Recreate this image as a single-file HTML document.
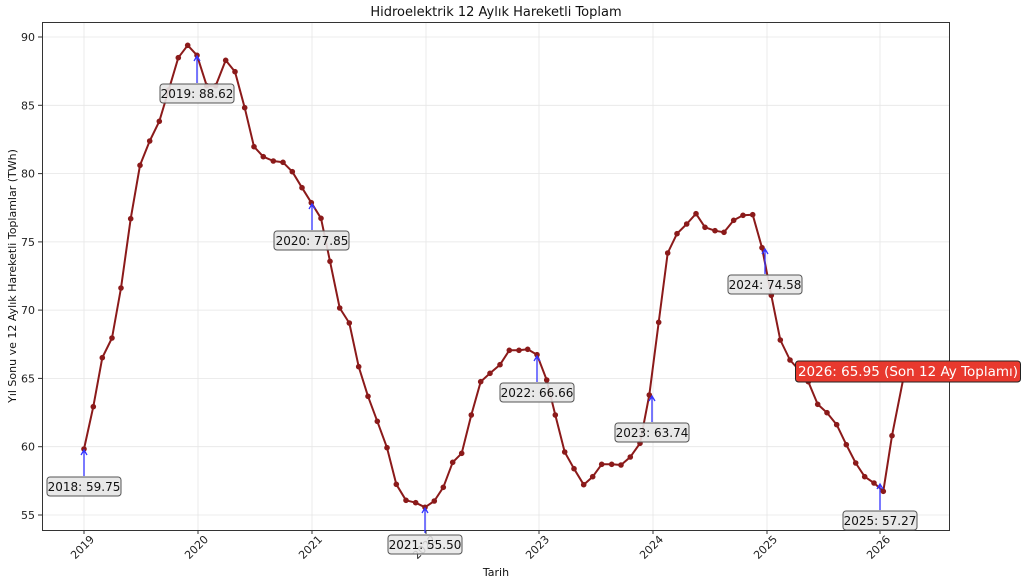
<!DOCTYPE html>
<html><head><meta charset="utf-8"><style>
body{margin:0;background:#fff;}
svg{display:block;font-family:"DejaVu Sans","Liberation Sans",sans-serif;}
</style></head><body>
<svg width="1024" height="586" viewBox="0 0 1024 586" xmlns="http://www.w3.org/2000/svg">
<rect width="1024" height="586" fill="#fff"/>
<g stroke="#e6e6e6" stroke-width="0.8">
<line x1="84" y1="22" x2="84" y2="530"/><line x1="198" y1="22" x2="198" y2="530"/><line x1="312" y1="22" x2="312" y2="530"/><line x1="426" y1="22" x2="426" y2="530"/><line x1="539" y1="22" x2="539" y2="530"/><line x1="653" y1="22" x2="653" y2="530"/><line x1="767" y1="22" x2="767" y2="530"/><line x1="880" y1="22" x2="880" y2="530"/>
<line x1="42" y1="37" x2="949" y2="37"/><line x1="42" y1="105.3" x2="949" y2="105.3"/><line x1="42" y1="173.6" x2="949" y2="173.6"/><line x1="42" y1="241.9" x2="949" y2="241.9"/><line x1="42" y1="310.1" x2="949" y2="310.1"/><line x1="42" y1="378.4" x2="949" y2="378.4"/><line x1="42" y1="446.7" x2="949" y2="446.7"/><line x1="42" y1="515" x2="949" y2="515"/>
</g>
<rect x="42.5" y="22.5" width="907" height="508" fill="none" stroke="#333" stroke-width="1"/>
<g stroke="#333" stroke-width="1">
<line x1="38" y1="37" x2="42" y2="37"/><line x1="38" y1="105.3" x2="42" y2="105.3"/><line x1="38" y1="173.6" x2="42" y2="173.6"/><line x1="38" y1="241.9" x2="42" y2="241.9"/><line x1="38" y1="310.1" x2="42" y2="310.1"/><line x1="38" y1="378.4" x2="42" y2="378.4"/><line x1="38" y1="446.7" x2="42" y2="446.7"/><line x1="38" y1="515" x2="42" y2="515"/>
<line x1="84" y1="530" x2="84" y2="534"/><line x1="198" y1="530" x2="198" y2="534"/><line x1="312" y1="530" x2="312" y2="534"/><line x1="426" y1="530" x2="426" y2="534"/><line x1="539" y1="530" x2="539" y2="534"/><line x1="653" y1="530" x2="653" y2="534"/><line x1="767" y1="530" x2="767" y2="534"/><line x1="880" y1="530" x2="880" y2="534"/>
</g>
<g font-size="11" fill="#222" text-anchor="end">
<text x="35" y="41">90</text><text x="35" y="109.3">85</text><text x="35" y="177.6">80</text><text x="35" y="245.9">75</text><text x="35" y="314.1">70</text><text x="35" y="382.4">65</text><text x="35" y="450.7">60</text><text x="35" y="519">55</text>
<text transform="translate(95,540) rotate(-45)">2019</text>
<text transform="translate(209,540) rotate(-45)">2020</text>
<text transform="translate(323,540) rotate(-45)">2021</text>
<text transform="translate(437,540) rotate(-45)">2022</text>
<text transform="translate(550,540) rotate(-45)">2023</text>
<text transform="translate(664,540) rotate(-45)">2024</text>
<text transform="translate(778,540) rotate(-45)">2025</text>
<text transform="translate(891,540) rotate(-45)">2026</text>
</g>
<text x="496" y="16" font-size="13" text-anchor="middle" fill="#111">Hidroelektrik 12 Aylık Hareketli Toplam</text>
<text x="496" y="576" font-size="11" text-anchor="middle" fill="#111">Tarih</text>
<text transform="translate(16,276) rotate(-90)" font-size="11" text-anchor="middle" fill="#111">Yıl Sonu ve 12 Aylık Hareketli Toplamlar (TWh)</text>
<g fill="none" stroke="#8b1a1a" stroke-width="2" stroke-linejoin="round">
<polyline id="ln" points="84,449 93.3,406.7 102.3,357.7 112,338 121,288 130.7,218.7 140,165.3 149.7,141 159.3,121.3 168.7,90 178.3,57.7 187.7,45.3 197,55.3 206.7,85.7 215.7,85.7 225.7,60.3 235,71.7 244.7,107.7 254,146.7 263.3,156.7 273.3,161 283,162.3 292.3,171.7 302,187.7 311.3,202.7 321,218.3 330,261.3 339.7,308 349.3,323 358.7,366.7 368,396.3 377.3,421.3 387,447.7 396.3,484.3 406,500.3 415.7,502.7 425,507.3 434.3,501 443.3,487.3 452.7,462.3 461.7,453.3 471.3,415 480.7,381.7 490,373.3 500,364.7 509.3,350.3 519,350.3 527.7,349.3 537,354.7 546.7,380 555.3,415 564.7,452 574,468.7 583.7,484.7 592.7,476.7 601.7,464.3 611.7,464.3 621,465 630.3,457 640,443.3 649.3,395 658.7,322.3 667.7,253 677,233.7 686.7,224 696,213.7 705,227.3 715,230.7 724,232.3 733.7,220.3 743,215.3 752.7,214.7 762,247.7 771.3,295.3 780.3,340 790,360 799,370 808.3,381.7 817.7,404.3 827,412.7 836.7,424.7 846.3,444.7 855.7,463 864.7,476.7 874,483 883.3,491.3 892,435.7 906,365"/>
</g>
<g fill="#8b1a1a">
<circle cx="84" cy="449" r="2.8"/><circle cx="93.3" cy="406.7" r="2.8"/><circle cx="102.3" cy="357.7" r="2.8"/><circle cx="112" cy="338" r="2.8"/><circle cx="121" cy="288" r="2.8"/><circle cx="130.7" cy="218.7" r="2.8"/><circle cx="140" cy="165.3" r="2.8"/><circle cx="149.7" cy="141" r="2.8"/><circle cx="159.3" cy="121.3" r="2.8"/><circle cx="168.7" cy="90" r="2.8"/><circle cx="178.3" cy="57.7" r="2.8"/><circle cx="187.7" cy="45.3" r="2.8"/><circle cx="197" cy="55.3" r="2.8"/><circle cx="206.7" cy="85.7" r="2.8"/><circle cx="215.7" cy="85.7" r="2.8"/><circle cx="225.7" cy="60.3" r="2.8"/><circle cx="235" cy="71.7" r="2.8"/><circle cx="244.7" cy="107.7" r="2.8"/><circle cx="254" cy="146.7" r="2.8"/><circle cx="263.3" cy="156.7" r="2.8"/><circle cx="273.3" cy="161" r="2.8"/><circle cx="283" cy="162.3" r="2.8"/><circle cx="292.3" cy="171.7" r="2.8"/><circle cx="302" cy="187.7" r="2.8"/><circle cx="311.3" cy="202.7" r="2.8"/><circle cx="321" cy="218.3" r="2.8"/><circle cx="330" cy="261.3" r="2.8"/><circle cx="339.7" cy="308" r="2.8"/><circle cx="349.3" cy="323" r="2.8"/><circle cx="358.7" cy="366.7" r="2.8"/><circle cx="368" cy="396.3" r="2.8"/><circle cx="377.3" cy="421.3" r="2.8"/><circle cx="387" cy="447.7" r="2.8"/><circle cx="396.3" cy="484.3" r="2.8"/><circle cx="406" cy="500.3" r="2.8"/><circle cx="415.7" cy="502.7" r="2.8"/><circle cx="425" cy="507.3" r="2.8"/><circle cx="434.3" cy="501" r="2.8"/><circle cx="443.3" cy="487.3" r="2.8"/><circle cx="452.7" cy="462.3" r="2.8"/><circle cx="461.7" cy="453.3" r="2.8"/><circle cx="471.3" cy="415" r="2.8"/><circle cx="480.7" cy="381.7" r="2.8"/><circle cx="490" cy="373.3" r="2.8"/><circle cx="500" cy="364.7" r="2.8"/><circle cx="509.3" cy="350.3" r="2.8"/><circle cx="519" cy="350.3" r="2.8"/><circle cx="527.7" cy="349.3" r="2.8"/><circle cx="537" cy="354.7" r="2.8"/><circle cx="546.7" cy="380" r="2.8"/><circle cx="555.3" cy="415" r="2.8"/><circle cx="564.7" cy="452" r="2.8"/><circle cx="574" cy="468.7" r="2.8"/><circle cx="583.7" cy="484.7" r="2.8"/><circle cx="592.7" cy="476.7" r="2.8"/><circle cx="601.7" cy="464.3" r="2.8"/><circle cx="611.7" cy="464.3" r="2.8"/><circle cx="621" cy="465" r="2.8"/><circle cx="630.3" cy="457" r="2.8"/><circle cx="640" cy="443.3" r="2.8"/><circle cx="649.3" cy="395" r="2.8"/><circle cx="658.7" cy="322.3" r="2.8"/><circle cx="667.7" cy="253" r="2.8"/><circle cx="677" cy="233.7" r="2.8"/><circle cx="686.7" cy="224" r="2.8"/><circle cx="696" cy="213.7" r="2.8"/><circle cx="705" cy="227.3" r="2.8"/><circle cx="715" cy="230.7" r="2.8"/><circle cx="724" cy="232.3" r="2.8"/><circle cx="733.7" cy="220.3" r="2.8"/><circle cx="743" cy="215.3" r="2.8"/><circle cx="752.7" cy="214.7" r="2.8"/><circle cx="762" cy="247.7" r="2.8"/><circle cx="771.3" cy="295.3" r="2.8"/><circle cx="780.3" cy="340" r="2.8"/><circle cx="790" cy="360" r="2.8"/><circle cx="799" cy="370" r="2.8"/><circle cx="808.3" cy="381.7" r="2.8"/><circle cx="817.7" cy="404.3" r="2.8"/><circle cx="827" cy="412.7" r="2.8"/><circle cx="836.7" cy="424.7" r="2.8"/><circle cx="846.3" cy="444.7" r="2.8"/><circle cx="855.7" cy="463" r="2.8"/><circle cx="864.7" cy="476.7" r="2.8"/><circle cx="874" cy="483" r="2.8"/><circle cx="883.3" cy="491.3" r="2.8"/><circle cx="892" cy="435.7" r="2.8"/><circle cx="906" cy="365" r="2.8"/>
</g>
<g stroke="#3333ff" stroke-width="1.3" fill="none">
<path d="M84,476 V451 M81,455 L84,450 L87,455"/>
<path d="M197,83 V57 M194,61 L197,56 L200,61"/>
<path d="M312,230 V205 M309,209 L312,204 L315,209"/>
<path d="M425,533 V509 M422,513 L425,508 L428,513"/>
<path d="M537,382 V357 M534,361 L537,356 L540,361"/>
<path d="M652,422 V397 M649,401 L652,396 L655,401"/>
<path d="M765,274 V250 M762,254 L765,249 L768,254"/>
<path d="M880,510 V485 M877,489 L880,484 L883,489"/>
</g>
<g font-size="12" fill="#111" text-anchor="middle">
<rect x="47" y="477" width="74" height="19" rx="3" fill="#e6e6e6" fill-opacity="0.9" stroke="#555"/><text x="84" y="491">2018: 59.75</text>
<rect x="160" y="84" width="74" height="19" rx="3" fill="#e6e6e6" fill-opacity="0.9" stroke="#555"/><text x="197" y="98">2019: 88.62</text>
<rect x="274" y="231" width="75" height="19" rx="3" fill="#e6e6e6" fill-opacity="0.9" stroke="#555"/><text x="312" y="245">2020: 77.85</text>
<rect x="388" y="535" width="74" height="19" rx="3" fill="#e6e6e6" fill-opacity="0.85" stroke="#555"/><text x="425" y="549">2021: 55.50</text>
<rect x="500" y="383" width="74" height="19" rx="3" fill="#e6e6e6" fill-opacity="0.9" stroke="#555"/><text x="537" y="397">2022: 66.66</text>
<rect x="615" y="423" width="74" height="19" rx="3" fill="#e6e6e6" fill-opacity="0.9" stroke="#555"/><text x="652" y="437">2023: 63.74</text>
<rect x="728" y="275" width="74" height="19" rx="3" fill="#e6e6e6" fill-opacity="0.9" stroke="#555"/><text x="765" y="289">2024: 74.58</text>
<rect x="843" y="511" width="74" height="19" rx="3" fill="#e6e6e6" fill-opacity="0.9" stroke="#555"/><text x="880" y="525">2025: 57.27</text>
</g>
<rect x="795.5" y="361" width="225" height="21" rx="3" fill="#e8392e" stroke="#222"/>
<text x="908" y="376" font-size="13.5" fill="#fff" text-anchor="middle">2026: 65.95 (Son 12 Ay Toplamı)</text>
</svg>
</body></html>
